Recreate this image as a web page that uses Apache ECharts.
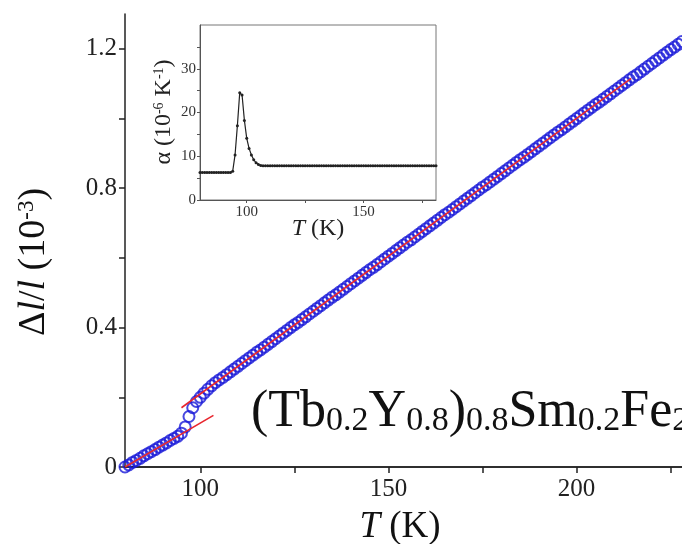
<!DOCTYPE html>
<html>
<head>
<meta charset="utf-8">
<script src="https://cdn.jsdelivr.net/npm/echarts@6/dist/echarts.min.js"></script>
<style>html,body{margin:0;padding:0;background:#fff;}#c{width:682px;height:544px;}</style>
</head>
<body>
<div id="c"></div>
<script>
// Main panel: temperature (K) and Δl/l (10^-3)
const mainT = [80,81,82,83,84,85,86,87,88,89,90,91,92,93,94,95,96,97,98,99,
100,101,102,103,104,105,106,107,108,109,110,111,112,113,114,115,116,117,118,119,
120,121,122,123,124,125,126,127,128,129,130,131,132,133,134,135,136,137,138,139,
140,141,142,143,144,145,146,147,148,149,150,151,152,153,154,155,156,157,158,159,
160,161,162,163,164,165,166,167,168,169,170,171,172,173,174,175,176,177,178,179,
180,181,182,183,184,185,186,187,188,189,190,191,192,193,194,195,196,197,198,199,
200,201,202,203,204,205,206,207,208,209,210,211,212,213,214,215,216,217,218,219,
220,221,222,223,224,225,226,227,228];
const mainDL = [0.000,0.006,0.013,0.019,0.025,0.032,0.038,0.044,0.050,0.057,0.063,0.069,0.076,0.082,0.088,0.097,0.115,0.145,0.170,0.188,
0.200,0.212,0.223,0.233,0.242,0.250,0.257,0.265,0.273,0.281,0.289,0.297,0.305,0.313,0.321,0.329,0.336,0.344,0.352,0.360,
0.368,0.376,0.384,0.392,0.400,0.408,0.415,0.423,0.431,0.439,0.447,0.455,0.463,0.471,0.479,0.487,0.494,0.502,0.510,0.518,
0.526,0.534,0.542,0.550,0.558,0.566,0.573,0.581,0.589,0.597,0.605,0.613,0.621,0.629,0.637,0.645,0.652,0.660,0.668,0.676,
0.684,0.692,0.700,0.708,0.716,0.724,0.731,0.739,0.747,0.755,0.763,0.771,0.779,0.787,0.795,0.803,0.810,0.818,0.826,0.834,
0.842,0.850,0.858,0.866,0.874,0.882,0.889,0.897,0.905,0.913,0.921,0.929,0.937,0.945,0.953,0.961,0.968,0.976,0.984,0.992,
1.000,1.008,1.016,1.024,1.032,1.040,1.047,1.055,1.063,1.071,1.079,1.087,1.095,1.103,1.111,1.119,1.126,1.134,1.142,1.150,
1.158,1.166,1.174,1.182,1.190,1.198,1.205,1.213,1.221];
// Linear fits (end points)
const fitLowT = [80, 103.5];
const fitLowDL = [0.000, 0.148];
const fitHighT = [95, 214.5];
const fitHighDL = [0.170, 1.115];
// Inset: thermal expansion coefficient α (10^-6 K^-1)
const insetT = [80,81,82,83,84,85,86,87,88,89,90,91,92,93,94,95,96,97,98,99,
100,101,102,103,104,105,106,107,108,109,110,111,112,113,114,115,116,117,118,119,
120,121,122,123,124,125,126,127,128,129,130,131,132,133,134,135,136,137,138,139,
140,141,142,143,144,145,146,147,148,149,150,151,152,153,154,155,156,157,158,159,
160,161,162,163,164,165,166,167,168,169,170,171,172,173,174,175,176,177,178,179,
180,181];
const insetAlpha = [6.3,6.3,6.3,6.3,6.3,6.3,6.3,6.3,6.3,6.3,6.3,6.3,6.3,6.3,6.6,10.3,17.0,24.5,24.0,18.2,
14.1,11.8,10.3,9.2,8.5,8.1,7.9,7.85,7.85,7.85,7.85,7.85,7.85,7.85,7.85,7.85,7.85,7.85,7.85,7.85,
7.85,7.85,7.85,7.85,7.85,7.85,7.85,7.85,7.85,7.85,7.85,7.85,7.85,7.85,7.85,7.85,7.85,7.85,7.85,7.85,
7.85,7.85,7.85,7.85,7.85,7.85,7.85,7.85,7.85,7.85,7.85,7.85,7.85,7.85,7.85,7.85,7.85,7.85,7.85,7.85,
7.85,7.85,7.85,7.85,7.85,7.85,7.85,7.85,7.85,7.85,7.85,7.85,7.85,7.85,7.85,7.85,7.85,7.85,7.85,7.85,
7.85,7.85];
// Tick values / labels
const mainXTicks = [100,125,150,175,200,225];
const mainXLabels = [100,150,200];
const mainYTicks = [0,0.2,0.4,0.6,0.8,1.0,1.2];
const mainYLabels = [0,0.4,0.8,1.2];
const insetXTicks = [100,125,150,175];
const insetXLabels = [100,150];
const insetYTicks = [0,5,10,15,20,25,30,35];
const insetYLabels = [0,10,20,30];
const compoundLabel = '{m|(Tb}{b|0.2}{m|Y}{b|0.8}{m|)}{b|0.8}{m|Sm}{b|0.2}{m|Fe}{b|2}';

const SERIF = '"Liberation Serif","DejaVu Serif",serif';
const zip = (a, b) => a.map((v, i) => [v, b[i]]);
const fmt = v => v === 0 ? '0' : (Number.isInteger(v) ? String(v) : v.toFixed(1));

const chart = echarts.init(document.getElementById('c'), null, {renderer: 'canvas'});
chart.setOption({
  animation: false,
  backgroundColor: '#fff',
  grid: [
    {left: 125, right: 0, top: 14, bottom: 77},
    {left: 200, top: 25, width: 236, height: 175, show: true, backgroundColor: '#fff', borderColor: '#777', borderWidth: 1, z: 10}
  ],
  xAxis: [
    {gridIndex: 0, type: 'value', min: 80, max: 228,
     axisLine: {show: true, onZero: false, lineStyle: {color: '#222', width: 1.5}},
     axisTick: {show: true, length: 6, inside: false, customValues: mainXTicks, lineStyle: {color: '#222', width: 1.5}},
     axisLabel: {customValues: mainXLabels, formatter: fmt, fontFamily: SERIF, fontSize: 25, color: '#222', margin: 10},
     splitLine: {show: false}},
    {gridIndex: 0, type: 'value', position: 'top', min: 80, max: 228,
     axisLine: {show: true, lineStyle: {color: '#222', width: 1.5}},
     axisTick: {show: false}, axisLabel: {show: false}, splitLine: {show: false}},
    {gridIndex: 1, type: 'value', min: 80, max: 181, z: 11,
     axisLine: {show: true, onZero: false, lineStyle: {color: '#555', width: 1}},
     axisTick: {show: true, length: 3, customValues: insetXTicks, lineStyle: {color: '#555', width: 1}},
     axisLabel: {customValues: insetXLabels, formatter: fmt, fontFamily: SERIF, fontSize: 15, color: '#333', margin: 5},
     splitLine: {show: false}}
  ],
  yAxis: [
    {gridIndex: 0, type: 'value', min: 0, max: 1.3,
     axisLine: {show: true, onZero: false, lineStyle: {color: '#222', width: 1.5}},
     axisTick: {show: true, length: 6, customValues: mainYTicks, lineStyle: {color: '#222', width: 1.5}},
     axisLabel: {customValues: mainYLabels, formatter: fmt, fontFamily: SERIF, fontSize: 25, color: '#222', margin: 8},
     splitLine: {show: false}},
    {gridIndex: 1, type: 'value', min: 0, max: 40, z: 11,
     axisLine: {show: true, onZero: false, lineStyle: {color: '#555', width: 1}},
     axisTick: {show: true, length: 3, customValues: insetYTicks, lineStyle: {color: '#555', width: 1}},
     axisLabel: {customValues: insetYLabels, formatter: fmt, fontFamily: SERIF, fontSize: 15, color: '#333', margin: 4},
     splitLine: {show: false}}
  ],
  series: [
    {type: 'scatter', xAxisIndex: 0, yAxisIndex: 0, data: zip(mainT, mainDL),
     symbol: 'circle', symbolSize: 11,
     itemStyle: {color: 'rgba(255,255,255,0)', borderColor: '#1a1ad8', borderWidth: 2}, z: 2},
    {type: 'line', xAxisIndex: 0, yAxisIndex: 0, data: zip(fitLowT, fitLowDL), showSymbol: false,
     lineStyle: {color: '#e8262e', width: 1.6}, z: 3},
    {type: 'line', xAxisIndex: 0, yAxisIndex: 0, data: zip(fitHighT, fitHighDL), showSymbol: false,
     lineStyle: {color: '#e8262e', width: 1.6}, z: 3},
    {type: 'line', xAxisIndex: 2, yAxisIndex: 1, data: zip(insetT, insetAlpha),
     symbol: 'circle', symbolSize: 3, showSymbol: true,
     itemStyle: {color: '#222'}, lineStyle: {color: '#222', width: 1.2}, z: 12}
  ],
  graphic: [
    {type: 'text', x: 251, y: 386, z: 20, style: {
      text: compoundLabel, fontFamily: SERIF,
      rich: {
        m: {fontSize: 52, lineHeight: 52, fontFamily: SERIF, fill: '#111'},
        b: {fontSize: 34, lineHeight: 32, fontFamily: SERIF, fill: '#111', verticalAlign: 'bottom'}
      }}},
    {type: 'text', x: 400, y: 527, z: 20, style: {
      text: '{i|T} (K)', fontFamily: SERIF, fontSize: 37, fill: '#111', align: 'center', verticalAlign: 'middle',
      rich: {i: {fontStyle: 'italic', fontFamily: SERIF, fontSize: 37, fill: '#111'}}}},
    {type: 'text', x: 34, y: 262, rotation: Math.PI / 2, z: 20, style: {
      text: '{n|Δ}{i|l}{n|/}{i|l}{n| (10}{s|-3}{n|)}', align: 'center', verticalAlign: 'middle',
      rich: {
        n: {fontFamily: SERIF, fontSize: 38, lineHeight: 38, fill: '#111'},
        i: {fontFamily: SERIF, fontStyle: 'italic', fontSize: 38, lineHeight: 38, fill: '#111'},
        s: {fontFamily: SERIF, fontSize: 23, lineHeight: 23, fill: '#111', verticalAlign: 'top'}
      }}},
    {type: 'text', x: 164, y: 112, rotation: Math.PI / 2, z: 20, style: {
      text: '{n|α (10}{s|-6}{n| K}{s|-1}{n|)}', align: 'center', verticalAlign: 'middle',
      rich: {
        n: {fontFamily: SERIF, fontSize: 24, lineHeight: 24, fill: '#222'},
        s: {fontFamily: SERIF, fontSize: 14, lineHeight: 14, fill: '#222', verticalAlign: 'top'}
      }}},
    {type: 'text', x: 318, y: 229, z: 20, style: {
      text: '{i|T} (K)', fontFamily: SERIF, fontSize: 24, fill: '#222', align: 'center', verticalAlign: 'middle',
      rich: {i: {fontStyle: 'italic', fontFamily: SERIF, fontSize: 24, fill: '#222'}}}}
  ]
});
</script>
</body>
</html>
